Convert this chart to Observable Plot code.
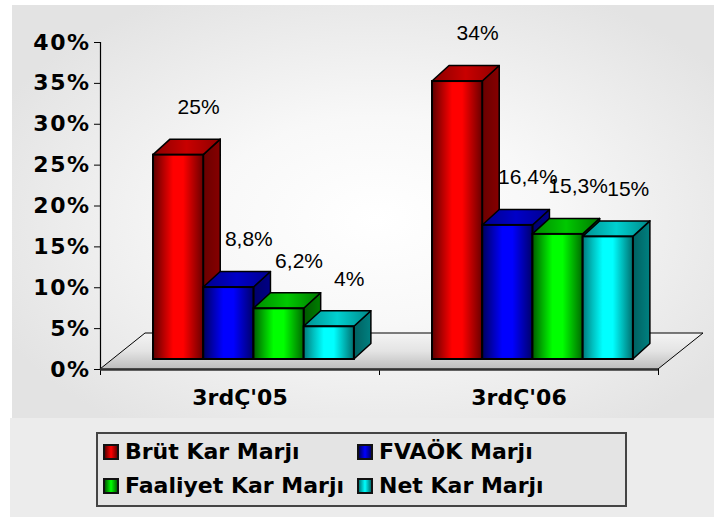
<!DOCTYPE html>
<html>
<head>
<meta charset="utf-8">
<script src="https://cdn.jsdelivr.net/npm/d3@7"></script>
<script src="https://cdn.jsdelivr.net/npm/@observablehq/plot@0.6"></script>
<style>
  html, body { margin: 0; padding: 0; background: #ffffff; }
  body { width: 714px; height: 517px; overflow: hidden; position: relative; font-family: "DejaVu Sans", Verdana, sans-serif; }
  #chart { position: absolute; left: 12px; top: 5px; width: 702px; height: 413px;
    background: radial-gradient(ellipse 60% 62% at 52% 52%, #ffffff 0%, #f8f8f8 40%, #e3e3e3 100%); }
  #bottom { position: absolute; left: 10px; top: 418px; width: 704px; height: 99px; background: #ececec; }
  #legend { position: absolute; left: 96px; top: 432px; width: 527px; height: 71px; border: 2px solid #444; background: #e4e4e4; }
  .sw { position: absolute; width: 16px; height: 16px; box-sizing: border-box; border: 2px solid #111; }
  .lt { position: absolute; font-size: 22px; font-weight: bold; line-height: 22px; color: #000; white-space: nowrap; }
  #chart g[aria-label="y-axis tick label"] text { letter-spacing: 1.5px; }
</style>
</head>
<body>
<div id="chart"></div>
<div id="bottom"></div>
<div id="legend"></div>
<script>
// ---- data ----
const categories = ["3rdÇ'05", "3rdÇ'06"];
const seriesNames = ["Brüt Kar Marjı", "FVAÖK Marjı", "Faaliyet Kar Marjı", "Net Kar Marjı"];
const brutKar = [25, 34];
const fvaok = [8.8, 16.4];
const faaliyet = [6.2, 15.3];
const netKar = [4, 15];
const yTicks = [0, 5, 10, 15, 20, 25, 30, 35, 40];

// ---- styles ----
const palette = [
  { front: ["#5c0000", "#b00000", "#ff0000", "#ff0000", "#b40000", "#680000"], top: ["#8a0000", "#c80000", "#8e0000"], side: ["#6a0000", "#860000"] },
  { front: ["#00005c", "#0000b0", "#0000ff", "#0000ff", "#0000b4", "#000068"], top: ["#00008a", "#0000c8", "#00008e"], side: ["#00006a", "#000086"] },
  { front: ["#005c00", "#00b000", "#00ff00", "#00ff00", "#00b400", "#006800"], top: ["#008a00", "#00c800", "#007800"], side: ["#005800", "#007e00"] },
  { front: ["#007a7a", "#00c0c0", "#00ffff", "#00ffff", "#00b8b8", "#006e6e"], top: ["#009090", "#00d0d0", "#008888"], side: ["#006060", "#008080"] }
];

// ---- layout ----
const W = 702, H = 413, ML = 88, MR = 56, MT = 37, MB = 49;
const pxPerX = (W - ML - MR) / categories.length;
const pxPerY = (H - MT - MB) / 40;
const GROUP_PAD = 0.19, BAR_W = 0.18;
const DEPTH_DX = 17 / pxPerX, DEPTH_DY = 15.5 / pxPerY;   // bar depth
const FLOOR_DX = 45 / pxPerX, FLOOR_DY = 36 / pxPerY;     // floor depth
const BAR_LIFT = -10;

const fmt = v => v.toFixed(1).replace(/\.0$/, "").replace(".", ",") + "%";

const seriesValues = [brutKar, fvaok, faaliyet, netKar];
const bars = [];
seriesValues.forEach((vals, s) => vals.forEach((v, c) => {
  const x1 = c + GROUP_PAD + s * BAR_W;
  bars.push({ id: `${s}-${c}`, s, c, v, x1, x2: x1 + BAR_W, label: fmt(v) });
}));
const sides = bars.flatMap(b => [
  { id: b.id, s: b.s, x: b.x2, y1: 0, y2: b.v },
  { id: b.id, s: b.s, x: b.x2 + DEPTH_DX, y1: DEPTH_DY, y2: b.v + DEPTH_DY }
]);
const tops = bars.flatMap(b => [
  { id: b.id, s: b.s, y: b.v, x1: b.x1, x2: b.x2 },
  { id: b.id, s: b.s, y: b.v + DEPTH_DY, x1: b.x1 + DEPTH_DX, x2: b.x2 + DEPTH_DX }
]);
const floor = [
  { y: 0, x1: 0, x2: categories.length },
  { y: FLOOR_DY, x1: FLOOR_DX, x2: categories.length + FLOOR_DX }
];

const sideMarks = seriesNames.map((n, s) => Plot.areaY(sides.filter(d => d.s === s), {
  x: "x", y1: "y1", y2: "y2", z: "id", fill: `url(#side${s})`, stroke: "#000", strokeWidth: 1.5, dy: BAR_LIFT
}));
const topMarks = seriesNames.map((n, s) => Plot.areaX(tops.filter(d => d.s === s), {
  y: "y", x1: "x1", x2: "x2", z: "id", fill: `url(#top${s})`, stroke: "#000", strokeWidth: 1.5, dy: BAR_LIFT
}));
const frontMarks = seriesNames.map((n, s) => Plot.rect(bars.filter(d => d.s === s), {
  x1: "x1", x2: "x2", y1: 0, y2: "v", fill: `url(#front${s})`, stroke: "#000", strokeWidth: 2, dy: BAR_LIFT
}));

const svg = Plot.plot({
  width: W, height: H,
  marginLeft: ML, marginRight: MR, marginTop: MT, marginBottom: MB,
  style: { background: "transparent", fontFamily: "'DejaVu Sans', Verdana, sans-serif", fontSize: "22px", fontWeight: "bold", color: "#000" },
  x: { type: "linear", domain: [0, categories.length], axis: "bottom", ticks: categories.length, tickFormat: () => "", tickSize: 6, label: null },
  y: { domain: [0, 40], axis: "left", ticks: yTicks, tickFormat: d => d + "%", tickSize: 6, tickPadding: 4, label: null },
  marks: [
    Plot.areaX(floor, { y: "y", x1: "x1", x2: "x2", fill: "url(#floorG)", stroke: "#000", strokeWidth: 1 }),
    Plot.ruleX([0], { y1: 0, y2: 40, stroke: "#000", strokeWidth: 1.2 }),
    Plot.ruleY([0], { x1: 0, x2: categories.length, stroke: "#333", strokeWidth: 2.5 }),
    ...sideMarks,
    ...topMarks,
    ...frontMarks,
    Plot.text(bars, { x: d => (d.x1 + d.x2) / 2, y: "v", text: "label", dx: 20, dy: -58,
      fontFamily: "'Liberation Sans', Arial, sans-serif", fontSize: 21, fontWeight: "normal", fill: "#000" }),
    Plot.text(categories, { x: (d, i) => i + 0.5, y: () => 0, text: d => d, dy: 28, fontSize: 22, fontWeight: "bold", fill: "#000" })
  ]
});

// gradient definitions
const defs = d3.select(svg).insert("defs", ":first-child");
function grad(id, colors, vertical) {
  const g = defs.append("linearGradient").attr("id", id)
    .attr("x1", 0).attr("y1", 0).attr("x2", vertical ? 0 : 1).attr("y2", vertical ? 1 : 0);
  colors.forEach((c, i) => g.append("stop").attr("offset", i / (colors.length - 1)).attr("stop-color", c));
}
palette.forEach((p, s) => {
  grad(`front${s}`, p.front);
  grad(`top${s}`, p.top);
  grad(`side${s}`, p.side);
});
grad("floorG", ["#f4f4f4", "#e4e4e4", "#bdbdbd"], true);

document.getElementById("chart").appendChild(svg);

// legend
const legend = document.getElementById("legend");
const legendPos = [[0, 0], [1, 0], [0, 1], [1, 1]];
seriesNames.forEach((name, s) => {
  const [col, row] = legendPos[s];
  const left = col ? 259 : 5;
  const top = row ? 44 : 10;
  const sw = document.createElement("div");
  sw.className = "sw";
  sw.style.left = left + "px";
  sw.style.top = top + "px";
  const f = palette[s].front;
  sw.style.background = `linear-gradient(90deg, ${f[0]}, ${f[2]} 50%, ${f[5]})`;
  legend.appendChild(sw);
  const t = document.createElement("div");
  t.className = "lt";
  t.textContent = name;
  t.style.left = (left + 22) + "px";
  t.style.top = (top - 3) + "px";
  legend.appendChild(t);
});
</script>
</body>
</html>
